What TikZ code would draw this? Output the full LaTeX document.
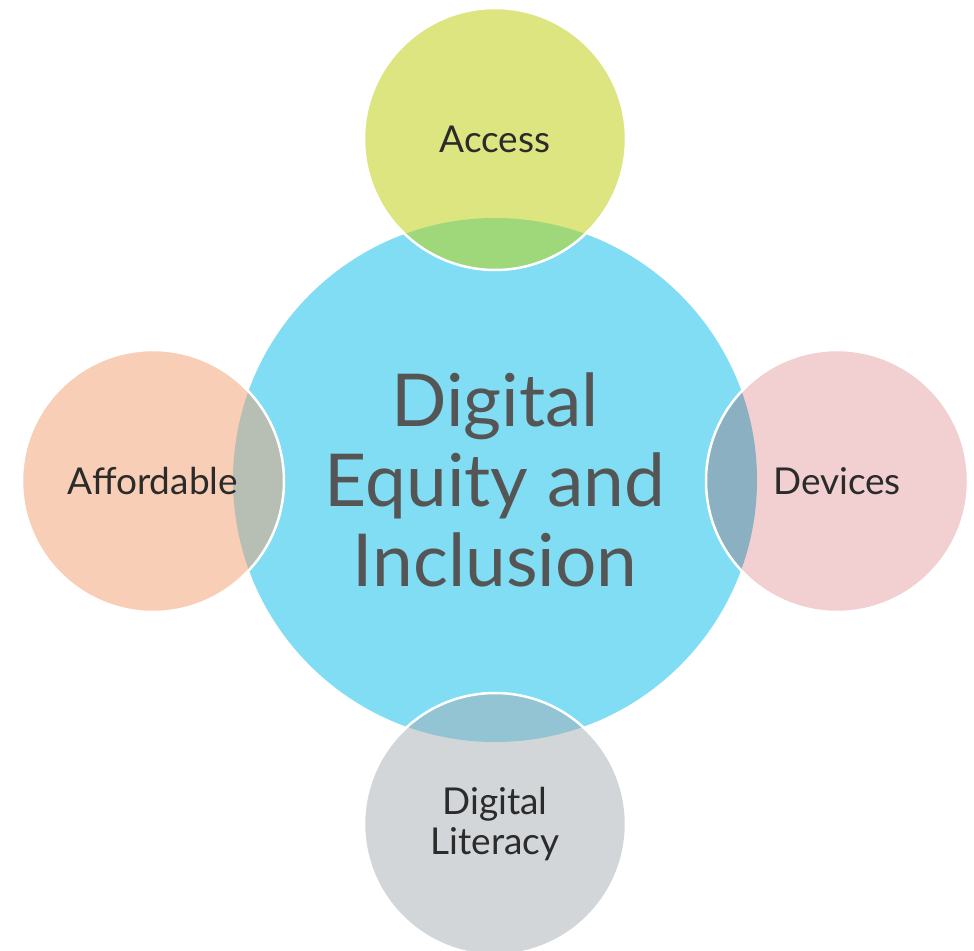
\documentclass[tikz,border=0pt]{standalone}
\usepackage{fontspec}
\setmainfont{Lato}
\definecolor{hubblue}{HTML}{80DDF3}
\definecolor{accesscol}{HTML}{DDE580}
\definecolor{accesslens}{HTML}{9FD77B}
\definecolor{affordcol}{HTML}{F8CFB6}
\definecolor{affordlens}{HTML}{B7BEB4}
\definecolor{devicecol}{HTML}{F2CFD0}
\definecolor{devicelens}{HTML}{8BB0C2}
\definecolor{literacycol}{HTML}{D3D6D9}
\definecolor{literacylens}{HTML}{93C4D3}
\definecolor{bigtext}{HTML}{555555}
\definecolor{smalltext}{HTML}{2B2B2B}
\begin{document}
\begin{tikzpicture}[x=1pt,y=-1pt,
	hub/.style={circle,fill=hubblue,minimum size=524pt,inner sep=0pt,outer sep=0pt},
	petal/.style={circle,minimum size=262pt,inner sep=0pt,outer sep=0pt},
	rim/.style={draw=white,line width=2.5pt},
	petaltext/.style={text=smalltext,font=\fontsize{37}{40}\selectfont,align=center}]
	\clip (0,0) rectangle (974,950);
	\fill[white] (0,0) rectangle (974,950);
	\node [hub] (hub) at (495,480) {};
	% the four small circles
	\node [petal,fill=accesscol] (access) at (495,139) {};
	\node [petal,fill=affordcol] (afford) at (153,481) {};
	\node [petal,fill=devicecol] (devices) at (837,481) {};
	\node [petal,fill=literacycol] (literacy) at (495,824) {};
	% overlaps with the big circle
	\begin{scope}
		\clip (hub.center) circle (262);
		\fill [accesslens] (access.center) circle (131);
		\fill [affordlens] (afford.center) circle (131);
		\fill [devicelens] (devices.center) circle (131);
		\fill [literacylens] (literacy.center) circle (131);
	\end{scope}
	\foreach \p in {access,afford,devices,literacy}
		\draw [rim] (\p.center) circle (131);
	% texts
	\node [text=bigtext,font=\fontsize{73}{80}\selectfont,align=center] (hubtext) at (hub) {Digital\\Equity and\\Inclusion};
	\node [petaltext] (accesstext) at (access) {Access};
	\node [petaltext] (affordtext) at (afford) {Affordable};
	\node [petaltext] (devicestext) at (devices) {Devices};
	\node [petaltext] (literacytext) at (literacy) {Digital\\Literacy};
\end{tikzpicture}
\end{document}
